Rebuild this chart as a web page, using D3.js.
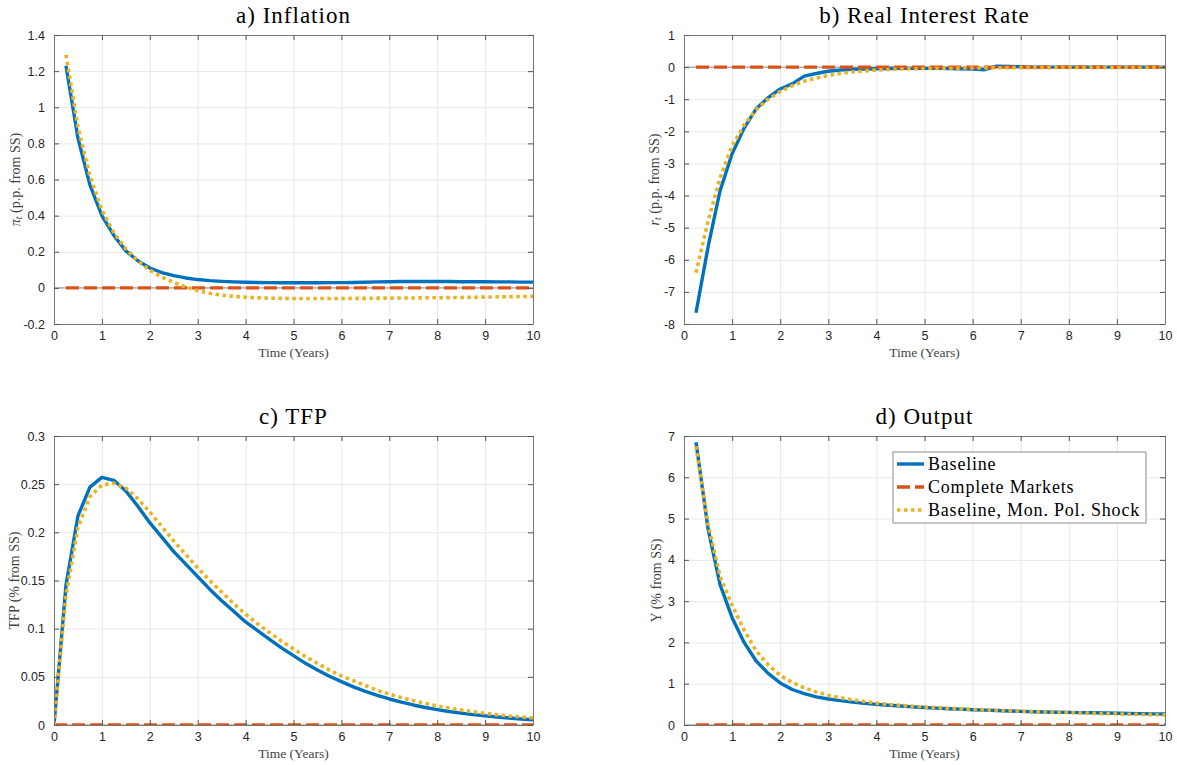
<!DOCTYPE html>
<html><head><meta charset="utf-8">
<script src="https://cdn.jsdelivr.net/npm/d3@7"></script>
<style>body{margin:0;background:#fff}svg{display:block}</style>
</head><body>
<svg id="chart" width="1177" height="765"></svg>
<script>
// ---- data ----
const quarters = [0,0.25,0.5,0.75,1,1.25,1.5,1.75,2,2.25,2.5,2.75,3,3.25,3.5,3.75,4,4.25,4.5,4.75,5,5.25,5.5,5.75,6,6.25,6.5,6.75,7,7.25,7.5,7.75,8,8.25,8.5,8.75,9,9.25,9.5,9.75,10];
const seriesNames = ["Baseline","Complete Markets","Baseline, Mon. Pol. Shock"];
const xTicks = [0,1,2,3,4,5,6,7,8,9,10];

const inflBaseline = [1.23,0.83,0.57,0.40,0.29,0.205,0.15,0.11,0.085,0.068,0.055,0.046,0.04,0.036,0.033,0.031,0.03,0.029,0.028,0.028,0.028,0.028,0.029,0.029,0.03,0.031,0.033,0.034,0.035,0.035,0.035,0.035,0.035,0.034,0.034,0.034,0.033,0.033,0.032,0.032];
const inflComplete = [0,0,0,0,0,0,0,0,0,0,0,0,0,0,0,0,0,0,0,0,0,0,0,0,0,0,0,0,0,0,0,0,0,0,0,0,0,0,0,0];
const inflMonPol = [1.29,0.89,0.62,0.43,0.305,0.215,0.15,0.098,0.06,0.03,0.005,-0.015,-0.03,-0.04,-0.047,-0.052,-0.055,-0.057,-0.058,-0.059,-0.059,-0.059,-0.059,-0.059,-0.058,-0.058,-0.057,-0.057,-0.056,-0.056,-0.055,-0.055,-0.054,-0.053,-0.052,-0.051,-0.05,-0.049,-0.048,-0.047];
const inflTicks = [-0.2,0,0.2,0.4,0.6,0.8,1,1.2,1.4];

const rateBaseline = [-7.65,-5.6,-3.85,-2.7,-1.9,-1.3,-0.95,-0.68,-0.52,-0.28,-0.2,-0.13,-0.09,-0.07,-0.06,-0.05,-0.045,-0.04,-0.04,-0.04,-0.04,-0.045,-0.05,-0.06,-0.08,0.03,0.02,0.01,0,0,0,0,0,0,0,0,0,0,0,0];
const rateComplete = [0,0,0,0,0,0,0,0,0,0,0,0,0,0,0,0,0,0,0,0,0,0,0,0,0,0,0,0,0,0,0,0,0,0,0,0,0,0,0,0];
const rateMonPol = [-6.4,-4.8,-3.45,-2.45,-1.8,-1.32,-1.0,-0.76,-0.58,-0.44,-0.34,-0.26,-0.2,-0.15,-0.12,-0.09,-0.075,-0.06,-0.05,-0.045,-0.04,-0.035,-0.03,-0.027,-0.024,-0.02,-0.018,-0.017,-0.016,-0.015,-0.014,-0.013,-0.012,-0.012,-0.011,-0.011,-0.01,-0.01,-0.01,-0.01];
const rateTicks = [-8,-7,-6,-5,-4,-3,-2,-1,0,1];

const tfpBaseline = [0,0.145,0.217,0.247,0.257,0.254,0.243,0.227,0.210,0.195,0.180,0.167,0.154,0.141,0.129,0.118,0.107,0.098,0.089,0.080,0.072,0.064,0.057,0.0506,0.045,0.0396,0.0349,0.0307,0.027,0.0237,0.0208,0.0182,0.016,0.014,0.0123,0.0108,0.0095,0.0083,0.0073,0.0063,0.0055];
const tfpComplete = [0,0,0,0,0,0,0,0,0,0,0,0,0,0,0,0,0,0,0,0,0,0,0,0,0,0,0,0,0,0,0,0,0,0,0,0,0,0,0,0,0];
const tfpMonPol = [0,0.135,0.205,0.237,0.249,0.251,0.246,0.235,0.221,0.206,0.191,0.177,0.163,0.150,0.138,0.126,0.115,0.105,0.096,0.087,0.079,0.071,0.064,0.057,0.051,0.046,0.041,0.036,0.032,0.0285,0.0253,0.0224,0.0198,0.0175,0.0155,0.0137,0.0121,0.0107,0.0094,0.0083,0.0073];
const tfpTicks = [0,0.05,0.1,0.15,0.2,0.25,0.3];

const outBaseline = [6.85,4.75,3.4,2.6,2.0,1.55,1.25,1.02,0.86,0.76,0.68,0.63,0.59,0.555,0.525,0.5,0.48,0.46,0.44,0.425,0.41,0.395,0.385,0.37,0.36,0.35,0.34,0.33,0.32,0.315,0.31,0.305,0.3,0.295,0.29,0.285,0.28,0.275,0.27,0.265];
const outComplete = [0,0,0,0,0,0,0,0,0,0,0,0,0,0,0,0,0,0,0,0,0,0,0,0,0,0,0,0,0,0,0,0,0,0,0,0,0,0,0,0];
const outMonPol = [6.75,4.85,3.6,2.9,2.3,1.8,1.46,1.2,1.03,0.9,0.8,0.72,0.66,0.61,0.57,0.53,0.5,0.475,0.455,0.435,0.42,0.405,0.39,0.375,0.365,0.355,0.345,0.335,0.325,0.315,0.305,0.3,0.29,0.285,0.275,0.27,0.26,0.255,0.25,0.245];
const outTicks = [0,1,2,3,4,5,6,7];

// ---- styles ----
const colors = ["#0072BD","#D95319","#EDB120"];
const dashes = [null,"13,5","3.5,3.5"];
const serif = "'Liberation Serif','Times New Roman',serif";
const sans = "'Liberation Sans',Arial,Helvetica,sans-serif";

const svg = d3.select("#chart");
svg.append("rect").attr("width",1177).attr("height",765).attr("fill","#fff");

const panels = [
  {title:"a) Inflation", ylab:[["π","italic"],["t","sub"],[" (p.p. from SS)",""]], x0:54,x1:533,y0:35,y1:324, ylim:[-0.2,1.4], ticks:inflTicks, series:[inflBaseline,inflComplete,inflMonPol], ylx:17},
  {title:"b) Real Interest Rate", ylab:[["r","italic"],["t","sub"],[" (p.p. from SS)",""]], x0:684,x1:1165,y0:35,y1:324, ylim:[-8,1], ticks:rateTicks, series:[rateBaseline,rateComplete,rateMonPol], ylx:656},
  {title:"c) TFP", ylab:[["TFP (% from SS)",""]], x0:54,x1:533,y0:436,y1:725, ylim:[0,0.3], ticks:tfpTicks, series:[tfpBaseline,tfpComplete,tfpMonPol], ylx:16, legend:false},
  {title:"d) Output", ylab:[["Y (% from SS)",""]], x0:684,x1:1165,y0:436,y1:725, ylim:[0,7], ticks:outTicks, series:[outBaseline,outComplete,outMonPol], ylx:658, legend:true}
];

const fmt = v => String(Math.round(v*100)/100);

panels.forEach((p,pi)=>{
  const g = svg.append("g");
  const x = d3.scaleLinear().domain([0,10]).range([p.x0,p.x1]);
  const y = d3.scaleLinear().domain(p.ylim).range([p.y1,p.y0]);
  const w = p.x1-p.x0, h = p.y1-p.y0;

  // grid
  g.append("g").attr("transform",`translate(0,${p.y1})`)
    .call(d3.axisBottom(x).tickValues(xTicks).tickSize(-h).tickFormat(""))
    .call(a=>{a.select(".domain").remove(); a.selectAll("line").attr("stroke","#e8e8e8").attr("stroke-width",1);});
  g.append("g").attr("transform",`translate(${p.x0},0)`)
    .call(d3.axisLeft(y).tickValues(p.ticks).tickSize(-w).tickFormat(""))
    .call(a=>{a.select(".domain").remove(); a.selectAll("line").attr("stroke","#e8e8e8").attr("stroke-width",1);});

  // zero reference line
  g.append("line").attr("x1",p.x0).attr("x2",p.x1).attr("y1",y(0)).attr("y2",y(0))
    .attr("stroke","#8c8c8c").attr("stroke-width",1);

  // clip
  const cid = "clip"+pi;
  svg.append("clipPath").attr("id",cid).append("rect").attr("x",p.x0).attr("y",p.y0).attr("width",w).attr("height",h);

  // series
  p.series.forEach((s,si)=>{
    const xs = s.length===quarters.length ? quarters : quarters.slice(1);
    const line = d3.line().x((d,i)=>x(xs[i])).y(d=>y(d));
    g.append("path").datum(s).attr("d",line)
      .attr("clip-path",`url(#${cid})`)
      .attr("fill","none").attr("stroke",colors[si])
      .attr("stroke-width", si===2?3.6:3.4)
      .attr("stroke-dasharray",dashes[si])
      .attr("stroke-linejoin","round");
  });

  // axes (inside ticks, box on)
  const axStyle = a=>{a.selectAll("line").attr("stroke","#555");a.select(".domain").attr("stroke","#777");};
  g.append("g").attr("transform",`translate(0,${p.y1})`)
    .call(d3.axisBottom(x).tickValues(xTicks).tickSizeInner(-5).tickSizeOuter(0).tickPadding(7).tickFormat(fmt))
    .call(axStyle).call(a=>a.selectAll("text").attr("font-family",sans).attr("font-size",12.5).attr("fill","#262626"));
  g.append("g").attr("transform",`translate(0,${p.y0})`)
    .call(d3.axisTop(x).tickValues(xTicks).tickSizeInner(-5).tickSizeOuter(0).tickFormat(""))
    .call(axStyle);
  g.append("g").attr("transform",`translate(${p.x0},0)`)
    .call(d3.axisLeft(y).tickValues(p.ticks).tickSizeInner(-5).tickSizeOuter(0).tickPadding(9).tickFormat(fmt))
    .call(axStyle).call(a=>a.selectAll("text").attr("font-family",sans).attr("font-size",12.5).attr("fill","#262626"));
  g.append("g").attr("transform",`translate(${p.x1},0)`)
    .call(d3.axisRight(y).tickValues(p.ticks).tickSizeInner(-5).tickSizeOuter(0).tickFormat(""))
    .call(axStyle);

  // title
  g.append("text").attr("x",(p.x0+p.x1)/2).attr("y",p.y0-12).attr("text-anchor","middle")
    .attr("font-family",serif).attr("font-size",23).attr("letter-spacing",1).attr("fill","#000").text(p.title);

  // x label
  g.append("text").attr("x",(p.x0+p.x1)/2).attr("y",p.y1+33).attr("text-anchor","middle")
    .attr("font-family",serif).attr("font-size",13.5).attr("fill","#444").text("Time (Years)");

  // y label
  const yl = g.append("text").attr("transform",`translate(${p.ylx},${(p.y0+p.y1)/2}) rotate(-90)`)
    .attr("text-anchor","middle").attr("dominant-baseline","middle")
    .attr("font-family",serif).attr("font-size",14).attr("fill","#444");
  p.ylab.forEach(([t,st])=>{
    const ts = yl.append("tspan").text(t);
    if(st==="italic") ts.attr("font-style","italic");
    if(st==="sub") ts.attr("font-size",10).attr("font-style","italic").attr("dy",3);
    if(st==="" && p.ylab.length>1) ts.attr("dy",-3);
  });

  // legend
  if(p.legend){
    const lg = g.append("g");
    lg.append("rect").attr("x",893).attr("y",452).attr("width",253).attr("height",71)
      .attr("fill","#fff").attr("stroke","#8a8a8a").attr("stroke-width",1);
    seriesNames.forEach((n,i)=>{
      const yy = 464 + i*23;
      lg.append("line").attr("x1",897).attr("x2",924).attr("y1",yy).attr("y2",yy)
        .attr("stroke",colors[i]).attr("stroke-width",i===2?3.6:3.4).attr("stroke-dasharray",dashes[i]);
      lg.append("text").attr("x",928).attr("y",yy+6).attr("font-family",serif).attr("font-size",18)
        .attr("letter-spacing",0.8).attr("fill","#000").text(n);
    });
  }
});
</script>
</body></html>
